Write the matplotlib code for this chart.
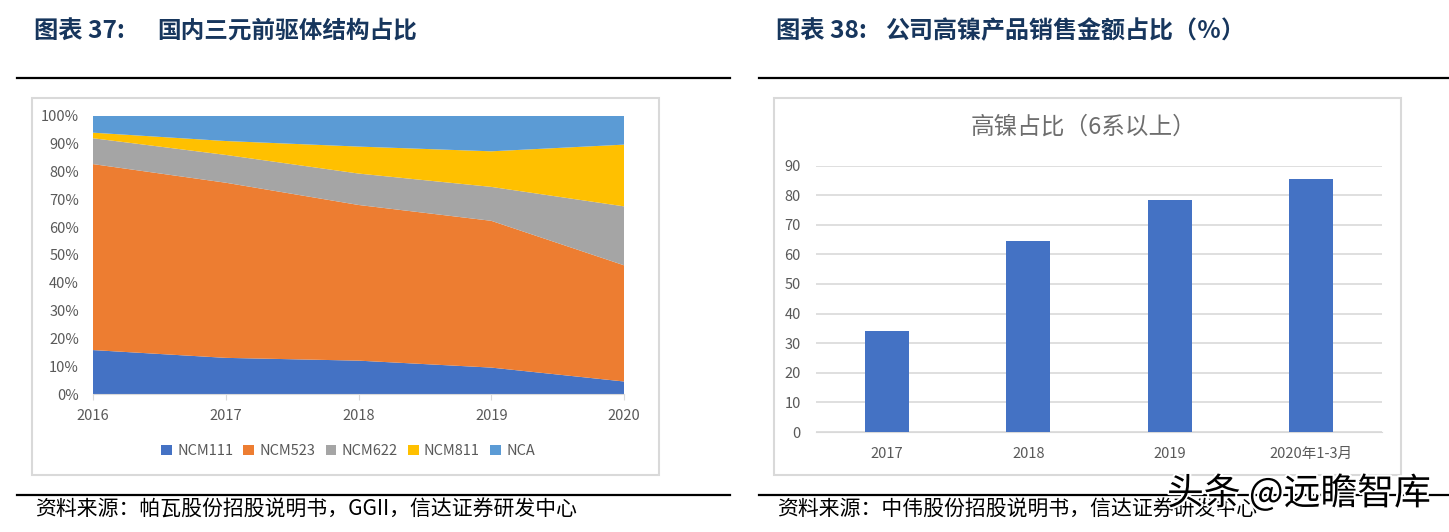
import matplotlib
matplotlib.use("Agg")
import matplotlib.pyplot as plt
import matplotlib.patheffects as pe
from matplotlib.lines import Line2D
from matplotlib.patches import Rectangle

plt.rcParams["font.family"] = ["Noto Sans CJK SC", "DejaVu Sans"]

W, H = 1449, 532

# 左图数据
years = [2016, 2017, 2018, 2019, 2020]
ncm111 = [15.8, 13, 12, 9.5, 4.5]
ncm523 = [66.9, 63, 56, 52.8, 41.8]
ncm622 = [9.3, 10, 11.3, 12.2, 21.2]
ncm811 = [2, 5, 9.7, 12.8, 22.2]
nca = [6, 9, 11, 12.7, 10.3]
area_names = ["NCM111", "NCM523", "NCM622", "NCM811", "NCA"]
area_colors = ["#4472C4", "#ED7D31", "#A5A5A5", "#FFC000", "#5B9BD5"]

# 右图数据
bar_labels = ["2017", "2018", "2019", "2020年1-3月"]
bar_values = [34, 64.5, 78.5, 85.5]

GREY = "#595959"
NAVY = "#17365D"


def px_axes(fig, x0, y0, x1, y1):
    # 像素坐标转成figure坐标,y从上往下
    return fig.add_axes([x0 / W, 1 - y1 / H, (x1 - x0) / W, (y1 - y0) / H])


def hline(fig, x0, x1, y, lw=1.6):
    fig.add_artist(Line2D([x0 / W, x1 / W], [1 - y / H, 1 - y / H], color="black", lw=lw))


def box(fig, x0, y0, x1, y1):
    fig.add_artist(Rectangle((x0 / W, 1 - y1 / H), (x1 - x0) / W, (y1 - y0) / H,
                             facecolor="white", edgecolor="#D9D9D9", lw=1.5,
                             transform=fig.transFigure, zorder=0))


fig = plt.figure(figsize=(W / 100, H / 100), dpi=100, facecolor="white")

box(fig, 32, 98, 659, 475)
box(fig, 774, 98, 1401, 475)
hline(fig, 17, 730, 77.5)
hline(fig, 759, 1449, 77.5)
hline(fig, 17, 730, 494.5)
hline(fig, 759, 1449, 494.5)

# 标题
fig.text(34 / W, 1 - 31 / H, "图表 37:", fontsize=17.5, fontweight="bold", color=NAVY, va="center")
fig.text(157 / W, 1 - 31 / H, "国内三元前驱体结构占比", fontsize=17, fontweight="bold", color=NAVY, va="center")
fig.text(776 / W, 1 - 31 / H, "图表 38:", fontsize=17.5, fontweight="bold", color=NAVY, va="center")
fig.text(885 / W, 1 - 31 / H, "公司高镍产品销售金额占比（％）", fontsize=17.3, fontweight="bold", color=NAVY, va="center")

# 来源
fig.text(35 / W, 1 - 510 / H, "资料来源：帕瓦股份招股说明书，GGII，信达证券研发中心", fontsize=15, color="black", va="center")
fig.text(777 / W, 1 - 510 / H, "资料来源：中伟股份招股说明书，信达证券研发中心", fontsize=15, color="black", va="center")

# 左图:堆积面积
ax1 = px_axes(fig, 93, 116, 624, 394)
ax1.stackplot(years, ncm111, ncm523, ncm622, ncm811, nca, colors=area_colors, labels=area_names)
ax1.set_xlim(2016, 2020)
ax1.set_ylim(0, 100)
ax1.set_xticks(years)
ax1.set_yticks(range(0, 101, 10))
ax1.set_yticklabels([f"{v}%" for v in range(0, 101, 10)])
ax1.tick_params(axis="y", length=0, labelsize=10.5, labelcolor=GREY, pad=10)
ax1.tick_params(axis="x", length=4, color="#D9D9D9", labelsize=10.5, labelcolor=GREY, pad=7)
for s in ["top", "left", "right"]:
    ax1.spines[s].set_visible(False)
ax1.spines["bottom"].set_color("#D9D9D9")
ax1.legend(loc="center", bbox_to_anchor=(348 / W, 1 - 451 / H), bbox_transform=fig.transFigure,
           ncol=5, frameon=False, fontsize=10.5, labelcolor=GREY, handlelength=0.75, handleheight=0.75,
           handletextpad=0.35, columnspacing=0.7)

# 右图:柱状
ax2 = px_axes(fig, 816, 165.5, 1382, 432)
x = range(len(bar_labels))
ax2.bar(x, bar_values, width=0.314, color="#4472C4", zorder=3)
ax2.set_xlim(-0.5, 3.5)
ax2.set_ylim(0, 90)
ax2.set_xticks(list(x))
ax2.set_xticklabels(bar_labels)
ax2.set_yticks(range(0, 91, 10))
ax2.grid(axis="y", color="#D9D9D9", lw=1.2, zorder=0)
ax2.tick_params(axis="both", length=0, labelsize=10.5, labelcolor=GREY)
ax2.tick_params(axis="x", pad=11)
ax2.tick_params(axis="y", pad=11)
for s in ["top", "left", "right"]:
    ax2.spines[s].set_visible(False)
ax2.spines["bottom"].set_color("#D9D9D9")
fig.text(1083 / W, 1 - 127 / H, "高镍占比（6系以上）", fontsize=17, color="#6E6E6E", ha="center", va="center")

# 水印
fig.text(1167 / W, 1 - 494 / H, "头条 @远瞻智库", fontsize=26.5, color="black", va="center", zorder=10,
         path_effects=[pe.withStroke(linewidth=3, foreground="white")])

fig.savefig("out.png", dpi=100)
